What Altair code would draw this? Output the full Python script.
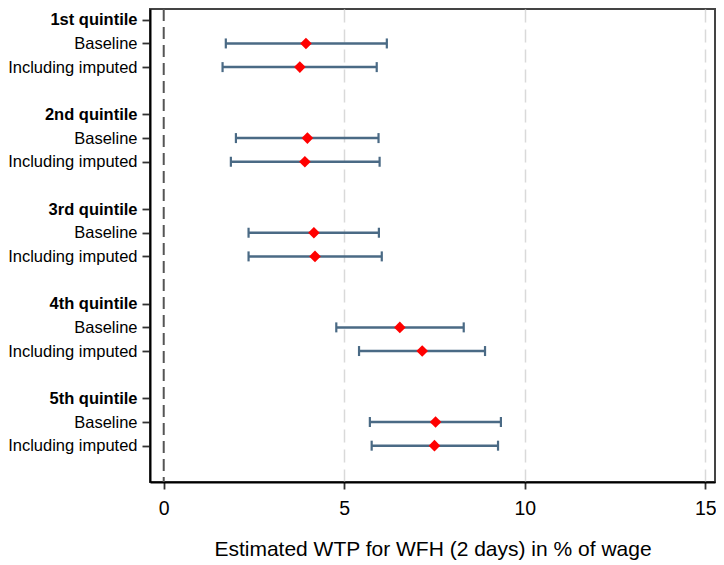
import altair as alt
import pandas as pd

# ---- data ----
groups = ["1st quintile", "2nd quintile", "3rd quintile", "4th quintile", "5th quintile"]
specs = ["Baseline", "Including imputed"]

est_baseline = [3.94, 3.98, 4.16, 6.54, 7.53]
lo_baseline = [1.72, 2.00, 2.35, 4.78, 5.71]
hi_baseline = [6.18, 5.95, 5.96, 8.31, 9.34]

est_imputed = [3.77, 3.91, 4.19, 7.16, 7.50]
lo_imputed = [1.63, 1.86, 2.35, 5.41, 5.76]
hi_imputed = [5.90, 5.98, 6.04, 8.90, 9.26]

x_ticks = [0, 5, 10, 15]
x_title = "Estimated WTP for WFH (2 days) in % of wage"

# ---- build table: row slots (header, baseline, imputed, gap) ----
rows = []
label_arr = [""] * 21
for g, name in enumerate(groups):
    head = 4 * g + 1
    label_arr[head] = name
    label_arr[head + 1] = specs[0]
    label_arr[head + 2] = specs[1]
    rows.append(dict(slot=head + 1, est=est_baseline[g], lo=lo_baseline[g], hi=hi_baseline[g]))
    rows.append(dict(slot=head + 2, est=est_imputed[g], lo=lo_imputed[g], hi=hi_imputed[g]))
df = pd.DataFrame(rows)
tick_slots = [i for i, s in enumerate(label_arr) if s]
label_expr = "[" + ",".join("'" + s + "'" for s in label_arr) + "][datum.value]"

FONT = "Liberation Sans"
BAR_COLOR = "#4a6a85"

xscale = alt.Scale(domain=[-0.38, 15.27], nice=False, zero=False)
yscale = alt.Scale(domain=[0.544, 20.535], reverse=True, nice=False, zero=False)

x_axis = alt.Axis(
    values=x_ticks, title=x_title, grid=True,
    gridColor="#d9d9d9", gridDash=[13, 7], gridWidth=1.5,
    gridOpacity=alt.condition("datum.value == 0", alt.value(0), alt.value(1)),
    labelFontSize=19.5, titleFontSize=21, titleFontWeight="normal",
    labelPadding=10, tickSize=7, titlePadding=21, labelOverlap=False,
)
y_axis = alt.Axis(
    values=tick_slots, tickCount=40, labelExpr=label_expr, title=None, grid=False,
    labelFontSize=16.5, tickSize=8, labelPadding=5,
    labelOverlap=False, labelFlush=False,
    labelFontWeight=alt.condition("datum.value % 4 == 1", alt.value("bold"), alt.value("normal")),
)

base = alt.Chart(df)

zero_line = alt.Chart(pd.DataFrame({"x": [0]})).mark_rule(
    color="#555555", strokeDash=[12, 6], strokeWidth=2
).encode(x=alt.X("x:Q", scale=xscale, axis=x_axis))

bars = base.mark_rule(color=BAR_COLOR, strokeWidth=2.5).encode(
    x=alt.X("lo:Q", scale=xscale, axis=x_axis),
    x2="hi:Q",
    y=alt.Y("slot:Q", scale=yscale, axis=y_axis),
)
cap_lo = base.mark_tick(color=BAR_COLOR, orient="vertical", size=10, thickness=2.2, opacity=1).encode(
    x=alt.X("lo:Q", scale=xscale), y=alt.Y("slot:Q", scale=yscale)
)
cap_hi = base.mark_tick(color=BAR_COLOR, orient="vertical", size=10, thickness=2.2, opacity=1).encode(
    x=alt.X("hi:Q", scale=xscale), y=alt.Y("slot:Q", scale=yscale)
)
points = base.mark_point(shape="diamond", filled=True, color="#ff0000", size=135, opacity=1).encode(
    x=alt.X("est:Q", scale=xscale), y=alt.Y("slot:Q", scale=yscale)
)

chart = (
    alt.layer(zero_line, bars, cap_lo, cap_hi, points)
    .properties(
        width=565, height=473,
        autosize=alt.AutoSizeParams(type="none"),
        padding={"left": 142, "top": 1, "right": 1, "bottom": 80},
    )
    .configure(font=FONT)
    .configure_view(stroke="#444444", strokeWidth=2)
    .configure_axis(
        domainColor="#000000", domainWidth=2,
        tickColor="#333333", tickWidth=1.8,
        labelColor="#000000", titleColor="#000000",
        labelFont=FONT, titleFont=FONT,
    )
)

chart.save("out.html", embed_options={"renderer": "svg", "actions": False})
